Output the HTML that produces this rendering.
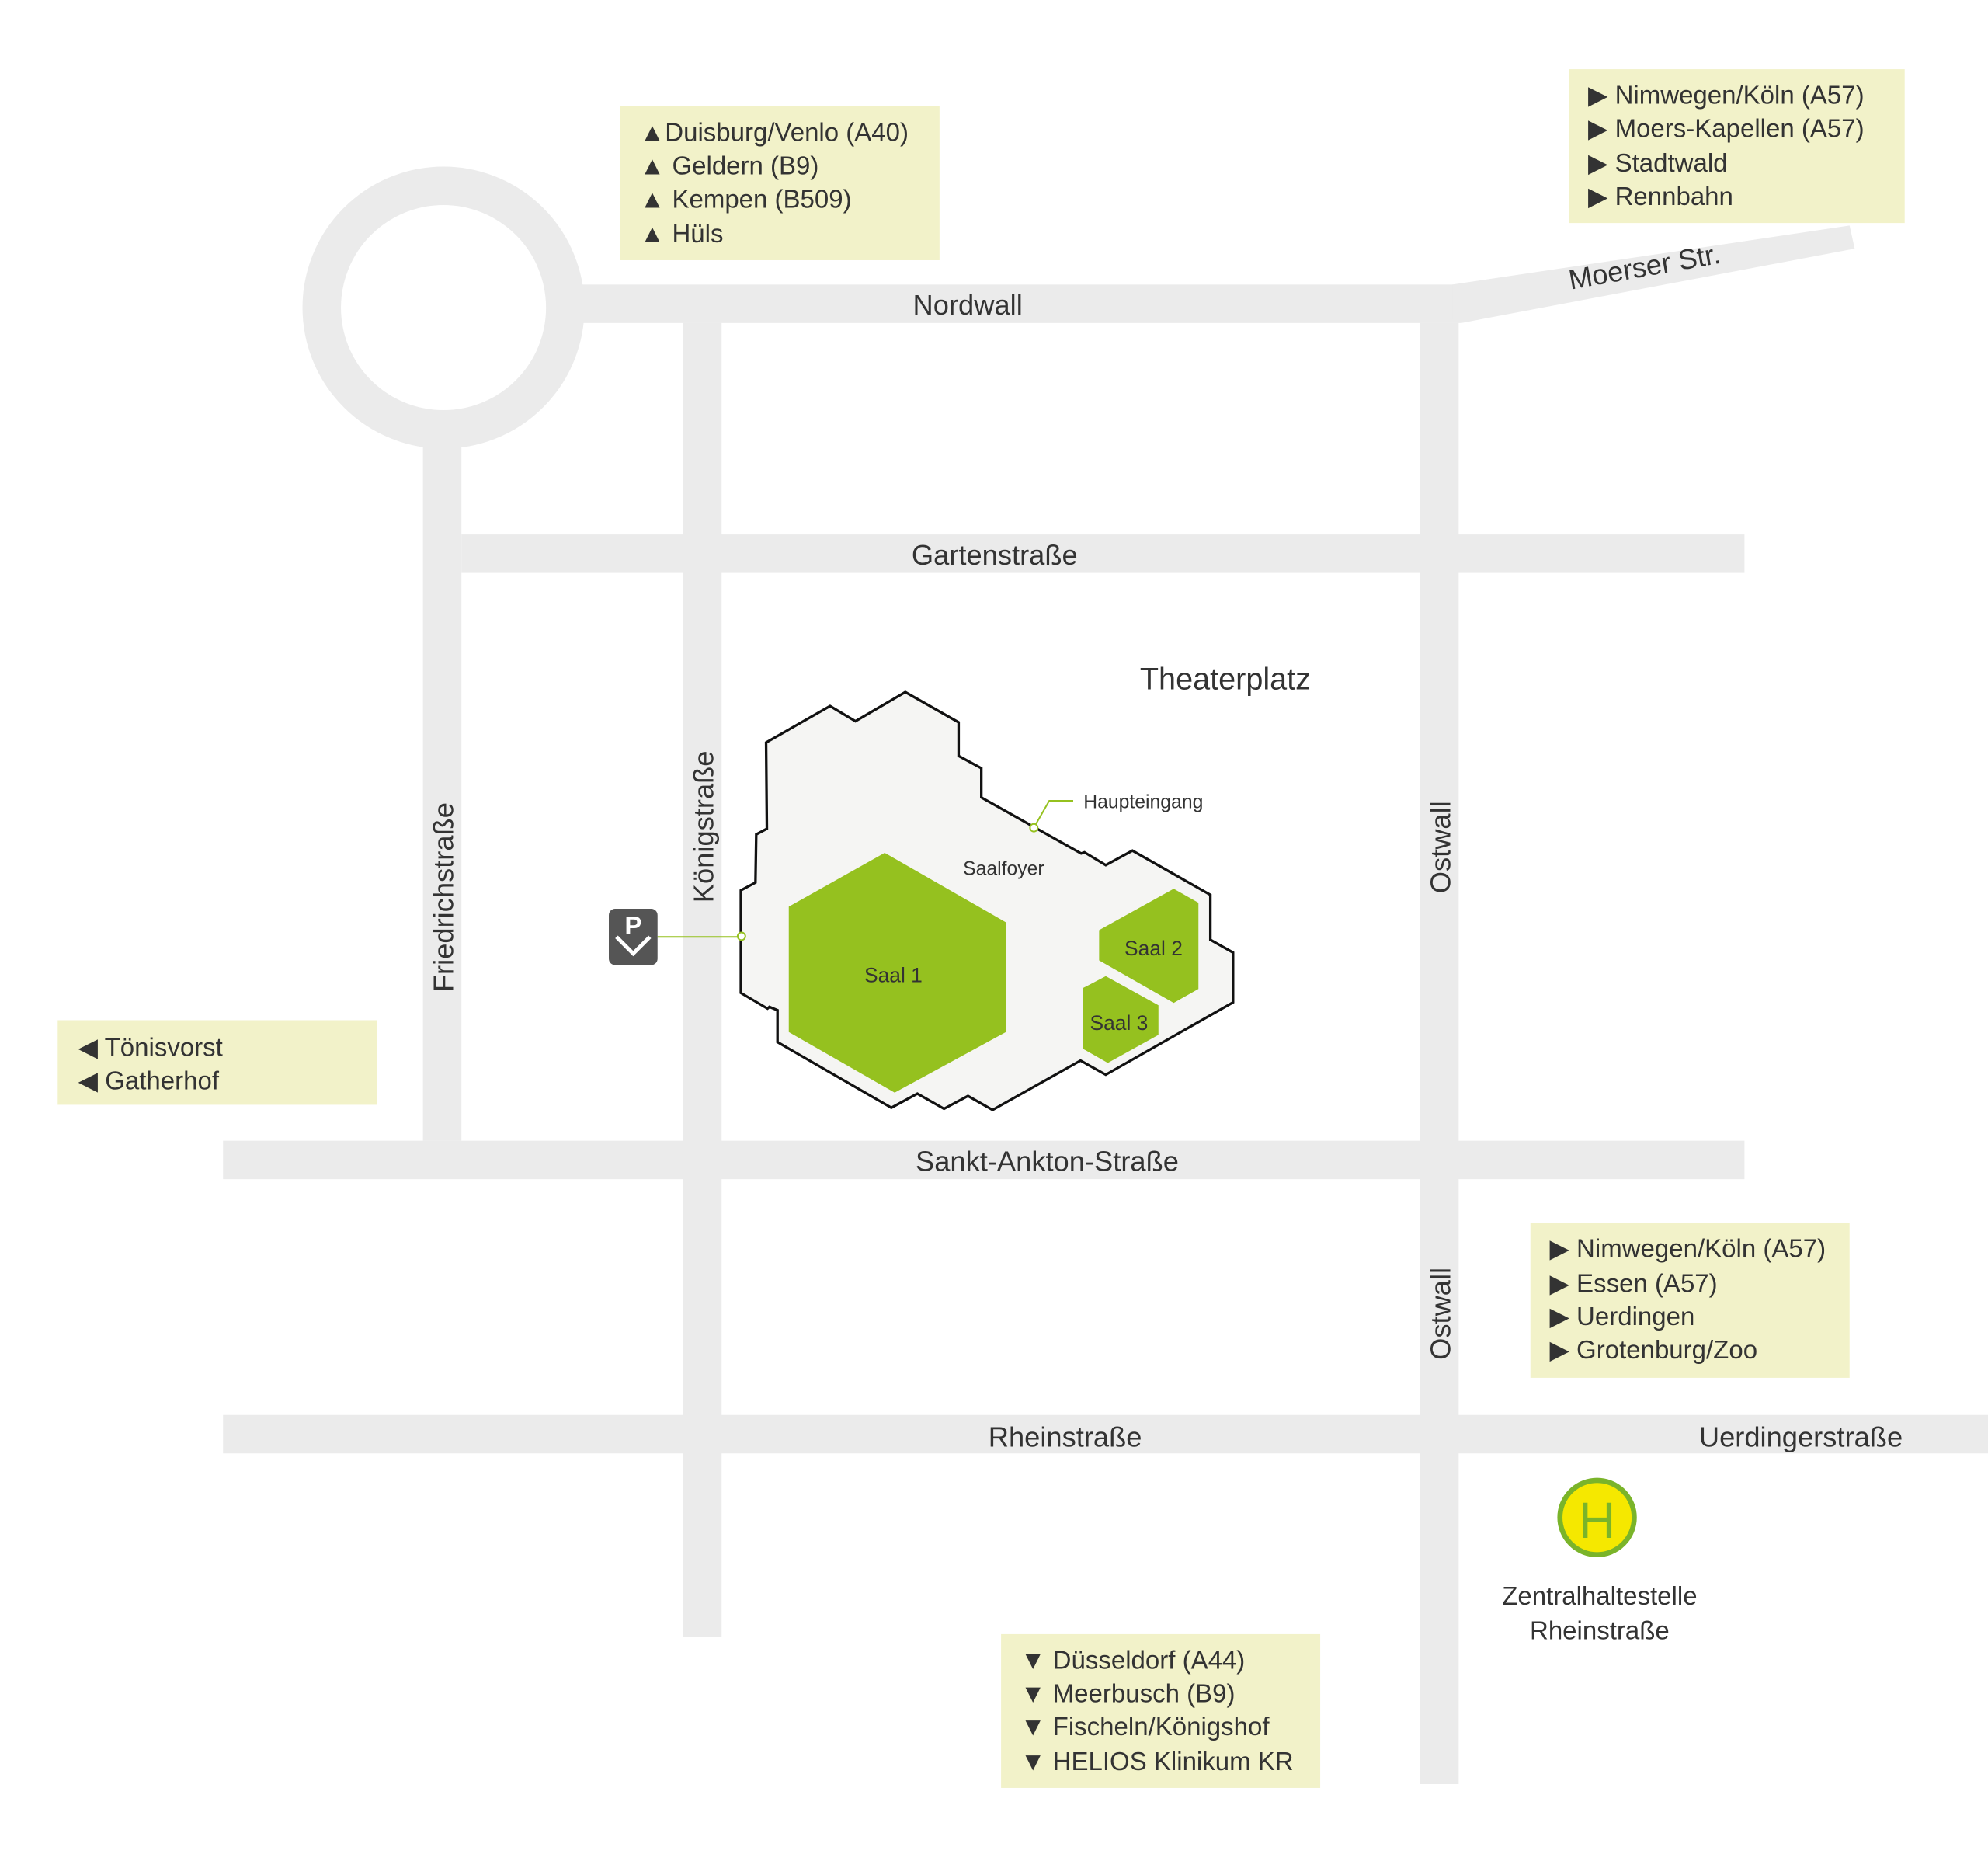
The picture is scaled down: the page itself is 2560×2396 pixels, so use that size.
<!DOCTYPE html>
<html><head><meta charset="utf-8"><style>
html,body{margin:0;padding:0;background:#fff;}
svg{display:block;}
text{font-family:"Liberation Sans",sans-serif;fill:#333;}
</style></head><body>
<svg width="2560" height="2396" viewBox="0 0 1551 1452" preserveAspectRatio="none" xmlns="http://www.w3.org/2000/svg">
<g fill="#ebebeb">
<circle cx="346" cy="240" r="95" fill="none" stroke="#ebebeb" stroke-width="30"/>
<rect x="440" y="222" width="698" height="30"/>
<polygon points="1133,222 1443,176 1447,194 1140,252 1133,252"/>
<rect x="533" y="252" width="30" height="1025"/>
<rect x="330" y="335" width="30" height="555"/>
<rect x="1108" y="252" width="30" height="1140"/>
<rect x="360" y="417" width="1001" height="30"/>
<rect x="174" y="890" width="1187" height="30"/>
<rect x="174" y="1104" width="1377" height="30"/>
</g>
<g font-size="22" text-anchor="middle" dominant-baseline="central">
<text x="755" y="238">Nordwall</text>
<text x="776" y="433">Gartenstraße</text>
<text x="817" y="906">Sankt-Ankton-Straße</text>
<text x="831" y="1121">Rheinstraße</text>
<text x="1405" y="1121">Uerdingerstraße</text>
<text x="1283" y="208" transform="rotate(-10 1283 208)">Moerser Str.</text>
<text x="346" y="700" transform="rotate(-90 346 700)">Friedrichstraße</text>
<text x="549" y="645" transform="rotate(-90 549 645)">Königstraße</text>
<text x="1124" y="661" transform="rotate(-90 1124 661)">Ostwall</text>
<text x="1124" y="1025" transform="rotate(-90 1124 1025)">Ostwall</text>
<text x="956" y="530" font-size="24">Theaterplatz</text>
</g>
<polygon fill="#f5f5f3" stroke="#111" stroke-width="2" points="597.7,579.3 647.6,550.9 667.4,562.7 706.3,540 747.9,563.6 747.9,589.8 765.6,599.4 765.6,622.2 843.5,665.9 846.1,665 862.7,675 883.5,663.7 944.3,698.2 944.3,733.2 962,743.2 962,782.1 862.7,838.5 843,827.5 774.4,866 755.2,855.1 736.5,865.1 715.7,853.3 695.4,864.3 606.6,813.1 606.6,788.2 600.3,785.6 598.8,786.9 578,774.7 578,694.7 589.4,688.6 590,651 598.3,646.6"/>
<g fill="#95c11f">
<polygon points="690.2,665.4 784.8,719.6 784.8,805.2 698,852.5 615.4,805.2 615.4,707.4"/>
<polygon points="915.7,693.4 935,704.3 935,771.6 915.7,782.5 857.5,749.3 857.5,725.7"/>
<polygon points="862.7,761.6 903.8,784.3 903.8,807.4 864.3,829.3 845.1,818.4 845.1,770.8"/>
</g>
<g font-size="15" text-anchor="middle" dominant-baseline="central">
<text x="697" y="761" font-size="16">Saal 1</text>
<text x="900" y="740" font-size="16">Saal 2</text>
<text x="873" y="798" font-size="16">Saal 3</text>
<text x="783" y="678">Saalfoyer</text>
<text x="892" y="626">Haupteingang</text>
</g>
<polyline points="806.6,645.8 818.6,624.8 837.3,624.8" fill="none" stroke="#95c11f" stroke-width="1.2"/>
<circle cx="806.6" cy="645.8" r="3" fill="#fff" stroke="#95c11f" stroke-width="1.2"/>
<line x1="513" y1="731" x2="578" y2="731" stroke="#95c11f" stroke-width="1.2"/>
<circle cx="578.5" cy="730.5" r="3" fill="#fff" stroke="#95c11f" stroke-width="1.2"/>
<rect x="475" y="709" width="38" height="44" rx="5" fill="#555"/>
<text x="494" y="729" font-size="20" font-weight="bold" text-anchor="middle" style="fill:#fff">P</text>
<polyline points="481,731 494,744 507,731" fill="none" stroke="#fff" stroke-width="3"/>
<g fill="#f2f2c9">
<rect x="484" y="83" width="249" height="120"/>
<rect x="1224" y="54" width="262" height="120"/>
<rect x="45" y="796" width="249" height="66"/>
<rect x="1194" y="954" width="249" height="121"/>
<rect x="781" y="1275" width="249" height="120"/>
</g>
<g font-size="20" dominant-baseline="central">
<text x="499" y="103">▲Duisburg/Venlo (A40)</text>
<text x="499" y="129">▲ Geldern (B9)</text>
<text x="499" y="155">▲ Kempen (B509)</text>
<text x="499" y="182">▲ Hüls</text>
<text x="1239" y="74">▶ Nimwegen/Köln (A57)</text>
<text x="1239" y="100">▶ Moers-Kapellen (A57)</text>
<text x="1239" y="127">▶ Stadtwald</text>
<text x="1239" y="153">▶ Rennbahn</text>
<text x="61" y="817">◀ Tönisvorst</text>
<text x="61" y="843">◀ Gatherhof</text>
<text x="1209" y="974">▶ Nimwegen/Köln (A57)</text>
<text x="1209" y="1001">▶ Essen (A57)</text>
<text x="1209" y="1027">▶ Uerdingen</text>
<text x="1209" y="1053">▶ Grotenburg/Zoo</text>
<text x="796" y="1295">▼ Düsseldorf (A44)</text>
<text x="796" y="1321">▼ Meerbusch (B9)</text>
<text x="796" y="1347">▼ Fischeln/Königshof</text>
<text x="796" y="1374">▼ HELIOS Klinikum KR</text>
</g>
<circle cx="1246" cy="1184" r="29" fill="#f5e800" stroke="#7ab42a" stroke-width="4"/>
<text x="1246" y="1186" font-size="40" text-anchor="middle" dominant-baseline="central" style="fill:#7ab42a">H</text>
<g font-size="20" text-anchor="middle" dominant-baseline="central">
<text x="1248" y="1245">Zentralhaltestelle</text>
<text x="1248" y="1272">Rheinstraße</text>
</g>
</svg>
</body></html>
